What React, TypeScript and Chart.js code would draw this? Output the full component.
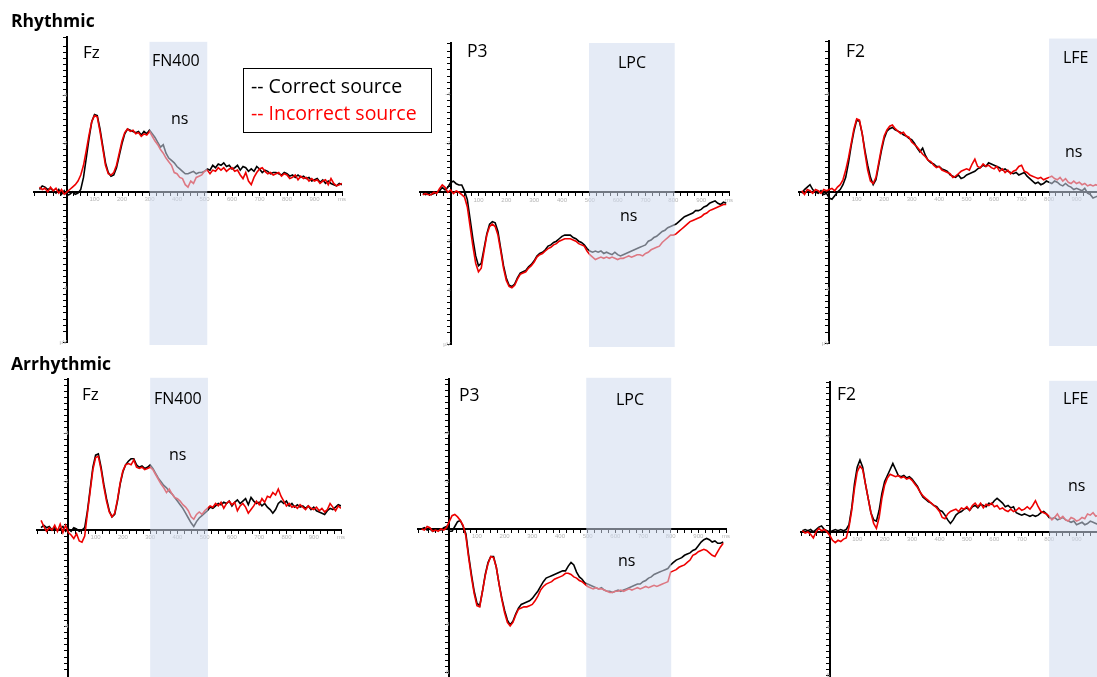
import React, { useEffect, useRef } from "react";
import { Chart, registerables } from "chart.js";

Chart.register(...registerables);

// ---------- data ----------
const TIME_MS = [
  -100, -90, -80, -70, -60, -50, -40, -30, -20, -10,
  0, 10, 20, 30, 40, 50, 60, 70, 80, 90,
  100, 110, 120, 130, 140, 150, 160, 170, 180, 190,
  200, 210, 220, 230, 240, 250, 260, 270, 280, 290,
  300, 310, 320, 330, 340, 350, 360, 370, 380, 390,
  400, 410, 420, 430, 440, 450, 460, 470, 480, 490,
  500, 510, 520, 530, 540, 550, 560, 570, 580, 590,
  600, 610, 620, 630, 640, 650, 660, 670, 680, 690,
  700, 710, 720, 730, 740, 750, 760, 770, 780, 790,
  800, 810, 820, 830, 840, 850, 860, 870, 880, 890,
  900, 910, 920, 930, 940, 950, 960, 970, 980, 990,
  1000,
];

const X_TICK_VALUES = [-100, 100, 200, 300, 400, 500, 600, 700, 800, 900];
const Y_TICK_VALUES = [-4, -2, 2, 4, 6];

const RHYTHMIC_FZ_CORRECT = [
  -0.1, -0.25, -0.2, -0.1, -0.15, -0.05, 0.05, -0.1, 0.1, -0.05,
  0.15, 0.1, 0.0, 0.1, 0.05, -0.1, -0.6, -1.4, -2.2, -2.9,
  -3.2, -3.15, -2.6, -1.9, -1.2, -0.8, -0.65, -0.7, -1.0, -1.5,
  -2.0, -2.4, -2.6, -2.55, -2.5, -2.45, -2.5, -2.35, -2.5, -2.4,
  -2.55, -2.4, -2.25, -2.05, -1.85, -1.95, -1.6, -1.4, -1.3, -1.2,
  -1.05, -0.95, -0.85, -0.75, -0.75, -0.8, -0.85, -0.75, -0.8, -0.8,
  -0.85, -0.95, -0.9, -1.1, -1.0, -1.15, -1.1, -1.2, -1.05, -1.1,
  -0.95, -1.0, -1.1, -0.9, -1.05, -1.0, -0.85, -0.95, -0.85, -1.05,
  -0.95, -0.8, -0.9, -0.85, -0.75, -0.8, -0.8, -0.75, -0.7, -0.8,
  -0.75, -0.65, -0.7, -0.6, -0.7, -0.6, -0.65, -0.55, -0.6, -0.45,
  -0.5, -0.55, -0.4, -0.5, -0.35, -0.45, -0.35, -0.3, -0.25, -0.35,
  -0.3,
];
const RHYTHMIC_FZ_INCORRECT = [
  -0.2, -0.1, -0.15, 0.0, -0.2, -0.05, -0.15, 0.05, -0.1, 0.1,
  0.0, -0.1, -0.2, -0.3, -0.45, -0.7, -1.1, -1.7, -2.35, -2.9,
  -3.15, -3.1, -2.5, -1.8, -1.1, -0.75, -0.7, -0.8, -1.1, -1.6,
  -2.1, -2.45, -2.6, -2.5, -2.55, -2.4, -2.45, -2.3, -2.4, -2.35,
  -2.5, -2.3, -2.1, -1.95, -1.75, -1.6, -1.4, -1.25, -1.1, -0.8,
  -0.75, -0.6, -0.55, -0.3, -0.2, -0.45, -0.35, -0.6, -0.65, -0.7,
  -0.85, -0.9, -0.75, -0.9, -0.85, -1.0, -0.9, -1.0, -0.85, -0.95,
  -1.0, -0.85, -0.9, -0.7, -0.55, -0.8, -0.45, -0.3, -0.6, -0.8,
  -0.95, -1.0, -0.85, -0.75, -0.8, -0.7, -0.75, -0.8, -0.65, -0.75,
  -0.7, -0.55, -0.6, -0.7, -0.5, -0.65, -0.55, -0.6, -0.45, -0.55,
  -0.45, -0.5, -0.35, -0.45, -0.5, -0.3, -0.55, -0.35, -0.25, -0.3,
  -0.35,
];

const RHYTHMIC_P3_CORRECT = [
  0.05, 0.1, 0.05, 0.1, 0.05, 0.0, -0.05, -0.2, -0.1, -0.2,
  -0.4, -0.45, -0.35, -0.3, -0.3, -0.05, 0.3, 1.1, 1.9, 2.6,
  3.0, 2.9, 2.3, 1.7, 1.3, 1.2, 1.25, 1.6, 2.3, 3.0,
  3.5, 3.8, 3.85, 3.75, 3.5, 3.3, 3.25, 3.2, 3.05, 2.95,
  2.8, 2.6, 2.5, 2.45, 2.35, 2.2, 2.15, 2.05, 2.0, 1.9,
  1.8, 1.75, 1.75, 1.75, 1.85, 1.9, 2.0, 2.05, 2.15, 2.3,
  2.4, 2.45, 2.4, 2.45, 2.4, 2.5, 2.45, 2.5, 2.55, 2.45,
  2.55, 2.6, 2.55, 2.5, 2.45, 2.4, 2.35, 2.3, 2.25, 2.2,
  2.15, 2.0, 1.95, 1.85, 1.8, 1.7, 1.6, 1.55, 1.45, 1.4,
  1.35, 1.3, 1.2, 1.1, 1.0, 0.95, 0.9, 0.85, 0.75, 0.75,
  0.7, 0.6, 0.55, 0.45, 0.4, 0.35, 0.45, 0.5, 0.4, 0.45,
];
const RHYTHMIC_P3_INCORRECT = [
  0.1, 0.05, 0.1, 0.1, 0.0, 0.05, -0.15, -0.3, -0.2, 0.0,
  -0.1, 0.05, -0.05, 0.0, 0.1, 0.2, 0.6, 1.4, 2.2, 2.9,
  3.25, 3.1, 2.4, 1.75, 1.4, 1.3, 1.4, 1.75, 2.4, 3.1,
  3.6, 3.85, 3.9, 3.8, 3.55, 3.35, 3.3, 3.25, 3.1, 3.0,
  2.85, 2.65, 2.55, 2.5, 2.4, 2.3, 2.25, 2.15, 2.1, 2.0,
  1.95, 1.9, 1.9, 1.9, 1.95, 2.0, 2.1, 2.15, 2.2, 2.4,
  2.55, 2.65, 2.75, 2.7, 2.65, 2.7, 2.65, 2.7, 2.65, 2.7,
  2.75, 2.7, 2.7, 2.65, 2.6, 2.65, 2.6, 2.55, 2.55, 2.6,
  2.5, 2.45, 2.35, 2.3, 2.25, 2.2, 2.05, 1.95, 1.85, 1.75,
  1.75, 1.7, 1.6, 1.5, 1.4, 1.3, 1.2, 1.15, 1.1, 1.05,
  1.0, 0.9, 0.85, 0.75, 0.7, 0.65, 0.6, 0.55, 0.5, 0.5,
];

const RHYTHMIC_F2_CORRECT = [
  0.05, -0.1, -0.2, -0.3, -0.1, 0.0, 0.05, -0.05, 0.1, 0.05,
  0.25, 0.3, 0.15, 0.0, -0.1, -0.3, -0.6, -1.2, -1.9, -2.5,
  -2.95, -2.9, -2.4, -1.7, -1.1, -0.6, -0.3, -0.5, -1.1, -1.7,
  -2.2, -2.5, -2.6, -2.65, -2.55, -2.5, -2.45, -2.35, -2.3, -2.2,
  -2.15, -2.0, -1.8, -1.65, -1.8, -1.5, -1.3, -1.2, -1.15, -1.05,
  -1.05, -0.95, -0.9, -0.85, -0.7, -0.65, -0.6, -0.7, -0.55, -0.6,
  -0.7, -0.75, -0.8, -0.85, -0.95, -1.0, -1.1, -1.05, -1.2, -1.15,
  -1.1, -1.05, -1.0, -0.9, -0.95, -0.85, -0.8, -0.75, -0.8, -0.7,
  -0.75, -0.8, -0.65, -0.55, -0.45, -0.35, -0.4, -0.3, -0.35, -0.45,
  -0.4, -0.35, -0.45, -0.4, -0.3, -0.25, -0.35, -0.25, -0.2, -0.1,
  -0.15, -0.1, -0.05, -0.15, 0.05, 0.1, 0.25, 0.2, 0.15, 0.1,
  0.1,
];
const RHYTHMIC_F2_INCORRECT = [
  -0.05, 0.1, -0.1, -0.05, 0.05, -0.1, -0.05, 0.05, -0.1, -0.05,
  -0.1, -0.15, -0.05, -0.2, -0.3, -0.5, -0.9, -1.4, -2.0, -2.6,
  -3.0, -2.95, -2.4, -1.6, -0.9, -0.45, -0.35, -0.6, -1.2, -1.8,
  -2.3, -2.55, -2.7, -2.75, -2.6, -2.5, -2.4, -2.45, -2.3, -2.25,
  -2.05, -1.95, -1.85, -1.7, -1.55, -1.45, -1.3, -1.25, -1.1, -1.0,
  -1.05, -0.9, -0.85, -0.8, -0.75, -0.6, -0.65, -0.75, -0.85, -0.9,
  -0.95, -0.9, -1.15, -1.35, -1.05, -1.0, -1.15, -1.05, -1.1, -1.0,
  -0.95, -1.05, -0.85, -0.95, -0.8, -0.9, -0.75, -0.85, -0.9, -1.05,
  -1.1, -0.85, -0.8, -0.7, -0.65, -0.6, -0.55, -0.6, -0.5, -0.55,
  -0.6, -0.65, -0.55, -0.5, -0.6, -0.45, -0.55, -0.4, -0.35, -0.45,
  -0.35, -0.4, -0.3, -0.35, -0.25, -0.3, -0.25, -0.3, -0.25, -0.3,
  -0.3,
];

const ARRHYTHMIC_FZ_CORRECT = [
  -0.1, -0.2, -0.1, -0.15, 0.0, -0.1, 0.0, -0.05, -0.15, 0.05,
  -0.05, 0.05, -0.1, -0.05, 0.05, 0.0, -0.1, -0.8, -1.7, -2.6,
  -3.1, -3.15, -2.6, -1.9, -1.3, -0.8, -0.55, -0.65, -1.2, -1.9,
  -2.4, -2.7, -2.85, -2.95, -2.95, -2.7, -2.6, -2.65, -2.55, -2.6,
  -2.7, -2.55, -2.35, -2.15, -2.0, -1.85, -1.75, -1.6, -1.5, -1.35,
  -1.2, -1.05, -0.9, -0.7, -0.5, -0.3, -0.15, -0.35, -0.5, -0.6,
  -0.7, -0.8, -0.95, -0.9, -1.0, -1.1, -1.05, -1.15, -1.1, -1.2,
  -1.0, -1.15, -1.25, -1.1, -1.2, -1.3, -1.05, -1.35, -1.2, -1.1,
  -1.15, -1.0, -1.1, -0.95, -0.85, -0.7, -0.85, -1.1, -1.2, -1.1,
  -1.2, -1.0, -1.1, -0.95, -1.05, -0.95, -1.0, -0.9, -1.0, -0.85,
  -0.95, -0.8, -0.75, -0.7, -0.65, -0.8, -0.9, -0.85, -0.95, -1.05,
  -1.0,
];
const ARRHYTHMIC_FZ_INCORRECT = [
  -0.4, -0.15, 0.05, -0.1, 0.0, -0.2, 0.05, -0.25, 0.1, -0.2,
  0.1, 0.2, 0.35, 0.15, 0.45, 0.5, 0.25, -0.7, -1.6, -2.5,
  -3.0, -3.05, -2.5, -1.8, -1.2, -0.75, -0.55, -0.7, -1.25, -1.95,
  -2.45, -2.7, -2.75, -2.7, -2.9, -2.6, -2.55, -2.6, -2.5, -2.55,
  -2.6, -2.5, -2.3, -2.1, -1.9, -1.75, -1.55, -1.7, -1.5, -1.35,
  -1.3, -1.2, -1.05, -0.95, -0.8, -0.55, -0.45, -0.65, -0.75, -0.65,
  -0.8, -0.9, -1.0, -0.95, -1.1, -1.0, -1.15, -0.9, -1.1, -1.2,
  -1.05, -1.15, -0.8, -1.0, -1.1, -0.95, -0.7, -0.85, -1.0, -1.2,
  -1.05, -1.3, -1.15, -1.4, -1.35, -1.55, -1.45, -1.7, -1.4, -1.2,
  -1.0, -1.1, -0.95, -1.0, -0.9, -1.05, -0.95, -0.85, -1.0, -0.9,
  -0.85, -0.95, -0.8, -0.9, -0.75, -0.85, -1.1, -0.95, -0.8, -1.0,
  -0.9,
];

const ARRHYTHMIC_P3_CORRECT = [
  0.0, -0.05, 0.05, 0.0, 0.1, 0.05, 0.0, 0.05, -0.05, -0.1,
  0.1, 0.1, -0.1, -0.3, -0.35, -0.1, 0.2, 1.1, 1.9, 2.6,
  3.1, 3.2, 2.6, 1.9, 1.4, 1.15, 1.15, 1.6, 2.3, 2.9,
  3.4, 3.8, 4.0, 3.85, 3.55, 3.3, 3.15, 3.1, 3.05, 3.0,
  2.9, 2.75, 2.6, 2.4, 2.2, 2.05, 2.0, 1.95, 1.9, 1.85,
  1.8, 1.75, 1.75, 1.55, 1.4, 1.5, 1.8, 2.0, 2.1, 2.25,
  2.3, 2.35, 2.4, 2.45, 2.5, 2.45, 2.55, 2.6, 2.6, 2.65,
  2.6, 2.55, 2.6, 2.55, 2.5, 2.45, 2.4, 2.35, 2.3, 2.3,
  2.2, 2.15, 2.05, 2.0, 1.9, 1.85, 1.8, 1.75, 1.7, 1.65,
  1.5, 1.4, 1.3, 1.25, 1.2, 1.1, 1.05, 1.0, 0.9, 0.85,
  0.7, 0.55, 0.45, 0.4, 0.45, 0.55, 0.5, 0.6, 0.6, 0.55,
];
const ARRHYTHMIC_P3_INCORRECT = [
  0.0, 0.05, -0.1, -0.05, 0.1, 0.05, 0.1, 0.0, 0.05, -0.05,
  -0.3, -0.55, -0.6, -0.5, -0.35, -0.15, 0.3, 1.2, 2.0, 2.7,
  3.2, 3.25, 2.6, 1.95, 1.45, 1.15, 1.2, 1.6, 2.3, 2.95,
  3.5, 3.9, 4.05, 3.9, 3.6, 3.35, 3.3, 3.25, 3.25, 3.2,
  3.15, 3.0, 2.8, 2.55, 2.4, 2.3, 2.25, 2.2, 2.1, 2.05,
  2.0, 1.95, 1.85, 1.85, 1.9, 2.0, 2.05, 2.15, 2.2, 2.3,
  2.4, 2.45, 2.5, 2.45, 2.5, 2.5, 2.55, 2.6, 2.65, 2.65,
  2.6, 2.6, 2.55, 2.6, 2.55, 2.5, 2.55, 2.5, 2.45, 2.5,
  2.45, 2.4, 2.45, 2.4, 2.35, 2.4, 2.35, 2.3, 2.25, 2.2,
  1.8, 1.75, 1.7, 1.6, 1.55, 1.5, 1.4, 1.3, 1.1, 1.05,
  0.95, 0.9, 0.85, 0.9, 1.0, 1.1, 1.15, 0.95, 0.75, 0.6,
];

const ARRHYTHMIC_F2_CORRECT = [
  -0.05, -0.1, -0.05, -0.1, 0.0, -0.1, -0.2, -0.25, -0.1, -0.05,
  0.0, -0.05, -0.1, -0.05, -0.1, -0.05, -0.1, -0.3, -1.0, -2.0,
  -2.7, -3.0, -2.7, -2.0, -1.4, -0.8, -0.5, -0.45, -0.9, -1.6,
  -2.1, -2.35, -2.6, -2.85, -2.6, -2.35, -2.3, -2.35, -2.25, -2.3,
  -2.2, -2.05, -1.9, -1.65, -1.45, -1.35, -1.25, -1.2, -1.1, -1.05,
  -0.9, -0.85, -0.7, -0.5, -0.35, -0.5, -0.7, -0.8, -0.85, -0.95,
  -1.0, -0.9, -1.05, -1.1, -1.0, -1.15, -1.1, -1.05, -1.2, -1.15,
  -1.3, -1.4, -1.3, -1.2, -1.05, -1.1, -1.0, -1.05, -0.8, -0.75,
  -0.7, -0.75, -0.7, -0.65, -0.7, -0.65, -0.7, -0.8, -0.85, -0.75,
  -0.6, -0.55, -0.6, -0.5, -0.55, -0.6, -0.5, -0.45, -0.4, -0.45,
  -0.3, -0.35, -0.4, -0.3, -0.35, -0.45, -0.4, -0.35, -0.3, -0.35,
  -0.3,
];
const ARRHYTHMIC_F2_INCORRECT = [
  -0.05, 0.05, 0.0, 0.1, 0.25, 0.0, -0.15, -0.05, -0.1, 0.0,
  0.15, 0.35, 0.45, 0.35, 0.4, 0.3, 0.25, -0.2, -0.9, -1.8,
  -2.5, -2.75, -2.6, -2.0, -1.4, -0.8, -0.35, -0.15, -0.6, -1.4,
  -1.95, -2.25, -2.4, -2.35, -2.3, -2.35, -2.25, -2.3, -2.2, -2.25,
  -2.15, -2.0, -1.85, -1.65, -1.5, -1.4, -1.3, -1.2, -1.1, -1.0,
  -0.85, -0.6, -0.55, -0.75, -0.85, -0.9, -0.95, -0.85, -1.0, -0.95,
  -1.05, -0.9, -1.1, -1.2, -1.05, -1.2, -1.0, -1.15, -1.1, -1.2,
  -1.05, -1.1, -0.95, -1.0, -0.9, -0.85, -0.95, -0.85, -0.9, -1.0,
  -0.9, -0.95, -1.05, -0.95, -1.1, -1.3, -1.05, -0.85, -0.8, -0.75,
  -0.65, -0.5, -0.6, -0.75, -0.55, -0.65, -0.5, -0.45, -0.6, -0.55,
  -0.45, -0.5, -0.6, -0.55, -0.75, -0.7, -0.8, -0.65, -0.7, -0.6,
  -0.55,
];

// ---------- layout ----------
const PAD = 10;
const FONT = "'Open Sans', 'Noto Sans', sans-serif";

const PANELS = [
  { id: "rFz", x0: 67, y0: 192, pxMs: 0.275, pxUv: 24.25, xMin: -120, xMax: 1000, yMin: -6.4, yMax: 6.2, shadeFrom: 300, shadeTo: 510, shadeTop: -6.2, correct: RHYTHMIC_FZ_CORRECT, incorrect: RHYTHMIC_FZ_INCORRECT },
  { id: "rP3", x0: 450.5, y0: 192, pxMs: 0.278, pxUv: 24.5, xMin: -110, xMax: 1000, yMin: -6.1, yMax: 6.2, shadeFrom: 497, shadeTo: 805, shadeTop: -6.1, correct: RHYTHMIC_P3_CORRECT, incorrect: RHYTHMIC_P3_INCORRECT },
  { id: "rF2", x0: 829, y0: 192, pxMs: 0.275, pxUv: 24.3, xMin: -110, xMax: 1000, yMin: -6.2, yMax: 6.2, shadeFrom: 800, shadeTo: 1000, shadeTop: -6.3, correct: RHYTHMIC_F2_CORRECT, incorrect: RHYTHMIC_F2_INCORRECT },
  { id: "aFz", x0: 68.5, y0: 530, pxMs: 0.2725, pxUv: 24.2, xMin: -115, xMax: 1000, yMin: -6.25, yMax: 6.2, shadeFrom: 300, shadeTo: 512, shadeTop: -6.3, correct: ARRHYTHMIC_FZ_CORRECT, incorrect: ARRHYTHMIC_FZ_INCORRECT },
  { id: "aP3", x0: 449.5, y0: 529, pxMs: 0.276, pxUv: 24, xMin: -113, xMax: 1000, yMin: -6.25, yMax: 6.3, shadeFrom: 495, shadeTo: 802, shadeTop: -6.3, correct: ARRHYTHMIC_P3_CORRECT, incorrect: ARRHYTHMIC_P3_INCORRECT },
  { id: "aF2", x0: 830, y0: 531.5, pxMs: 0.274, pxUv: 24, xMin: -105, xMax: 1000, yMin: -6.25, yMax: 6.3, shadeFrom: 800, shadeTo: 1000, shadeTop: -6.3, correct: ARRHYTHMIC_F2_CORRECT, incorrect: ARRHYTHMIC_F2_INCORRECT },
];

const TEXTS = [
  { text: "Rhythmic", left: 11, top: 11.5, size: 17.5, bold: true },
  { text: "Arrhythmic", left: 11, top: 354.5, size: 17.5, bold: true },
  { text: "Fz", left: 83, top: 43, size: 17 },
  { text: "FN400", left: 152, top: 51.5, size: 16 },
  { text: "ns", left: 171, top: 109.6, size: 16 },
  { text: "P3", left: 467, top: 42, size: 17.5 },
  { text: "LPC", left: 618, top: 53.7, size: 16 },
  { text: "ns", left: 620, top: 207, size: 16 },
  { text: "F2", left: 846, top: 42, size: 17.5 },
  { text: "LFE", left: 1063, top: 49.3, size: 16 },
  { text: "ns", left: 1065, top: 143.4, size: 16 },
  { text: "Fz", left: 82, top: 385.3, size: 17 },
  { text: "FN400", left: 154, top: 389.8, size: 16 },
  { text: "ns", left: 169, top: 446.3, size: 16 },
  { text: "P3", left: 459, top: 385.7, size: 17.5 },
  { text: "LPC", left: 616, top: 391, size: 16 },
  { text: "ns", left: 618, top: 552, size: 16 },
  { text: "F2", left: 837, top: 384.9, size: 17.5 },
  { text: "LFE", left: 1063, top: 389.5, size: 16 },
  { text: "ns", left: 1068, top: 476.8, size: 16 },
];

const shadePlugin = {
  id: "erpShade",
  afterDatasetsDraw(chart: any, _args: any, opts: any) {
    const { ctx, chartArea, scales } = chart;
    const x1 = scales.x.getPixelForValue(opts.from);
    const x2 = scales.x.getPixelForValue(opts.to);
    const yTop = scales.y.getPixelForValue(opts.top);
    ctx.save();
    ctx.fillStyle = opts.color;
    ctx.fillRect(x1, yTop, x2 - x1, chartArea.bottom + 3 - yTop);
    ctx.restore();
  },
};

const zeroPadding = (scale: any) => {
  scale.paddingLeft = 0;
  scale.paddingRight = 0;
  scale.paddingTop = 0;
  scale.paddingBottom = 0;
};

function ErpPanel({ cfg }: { cfg: any }) {
  const ref = useRef<HTMLCanvasElement>(null);
  const left = Math.round(cfg.x0 + cfg.xMin * cfg.pxMs) - PAD;
  const right = Math.round(cfg.x0 + cfg.xMax * cfg.pxMs) + PAD;
  const top = Math.round(cfg.y0 + cfg.yMin * cfg.pxUv) - PAD;
  const bottom = Math.round(cfg.y0 + cfg.yMax * cfg.pxUv) + PAD;
  const W = right - left;
  const H = bottom - top;

  useEffect(() => {
    if (!ref.current) return;
    const toPoints = (vals: number[]) => vals.map((v, i) => ({ x: TIME_MS[i], y: v }));
    const tickFont = { size: 6, family: "'Liberation Sans', sans-serif" };
    const chart = new Chart(ref.current, {
      type: "line",
      data: {
        datasets: [
          {
            label: "Incorrect source",
            data: toPoints(cfg.incorrect),
            borderColor: "rgb(238,0,0)",
            borderWidth: 1.6,
            pointRadius: 0,
            tension: 0,
          },
          {
            label: "Correct source",
            data: toPoints(cfg.correct),
            borderColor: "#000000",
            borderWidth: 1.6,
            pointRadius: 0,
            tension: 0,
          },
        ],
      },
      options: {
        responsive: false,
        animation: false,
        events: [],
        layout: { padding: PAD },
        plugins: {
          legend: { display: false },
          tooltip: { enabled: false },
          erpShade: {
            from: cfg.shadeFrom,
            to: cfg.shadeTo,
            top: cfg.shadeTop,
            color: "rgba(207,219,238,0.55)",
          },
        } as any,
        scales: {
          x: {
            type: "linear",
            min: cfg.xMin,
            max: cfg.xMax,
            position: { y: 0 } as any,
            z: 1,
            afterFit: zeroPadding,
            grid: { drawOnChartArea: false, drawTicks: true, tickLength: 3, color: "#000", lineWidth: 1 },
            border: { display: true, color: "#000", width: 2 },
            ticks: {
              stepSize: 25,
              autoSkip: false,
              maxRotation: 0,
              minRotation: 0,
              padding: 1,
              color: "#b4b4b4",
              font: tickFont,
              callback: (value: any) => {
                const v = Math.round(Number(value));
                if (v === 1000) return "ms";
                return X_TICK_VALUES.includes(v) && Math.abs(Number(value) - v) < 1e-6 ? String(v) : "";
              },
            },
          },
          y: {
            type: "linear",
            min: cfg.yMin,
            max: cfg.yMax,
            reverse: true,
            position: { x: 0 } as any,
            z: 1,
            afterFit: zeroPadding,
            grid: { drawOnChartArea: false, drawTicks: true, tickLength: 3, color: "#000", lineWidth: 1 },
            border: { display: true, color: "#000", width: 2 },
            ticks: {
              stepSize: 0.25,
              autoSkip: false,
              padding: 2,
              color: "#b4b4b4",
              font: tickFont,
              callback: (value: any, index: number) => {
                if (index === 0) return "µV";
                const v = Math.round(Number(value) * 100) / 100;
                return Y_TICK_VALUES.includes(v) ? String(v) : "";
              },
            },
          },
        },
      } as any,
      plugins: [shadePlugin],
    });
    return () => chart.destroy();
  }, []);

  return (
    <canvas
      ref={ref}
      width={W}
      height={H}
      style={{ position: "absolute", left, top, width: W, height: H }}
    />
  );
}

export default function App() {
  return (
    <div
      style={{
        position: "fixed",
        left: 0,
        top: 0,
        width: 1097,
        height: 677,
        overflow: "hidden",
        background: "#ffffff",
      }}
    >
      {PANELS.map((p) => (
        <ErpPanel key={p.id} cfg={p} />
      ))}
      {TEXTS.map((t, i) => (
        <div
          key={i}
          style={{
            position: "absolute",
            left: t.left,
            top: t.top,
            fontSize: t.size,
            lineHeight: `${t.size}px`,
            fontFamily: FONT,
            fontWeight: t.bold ? 700 : 400,
            color: "#000",
            whiteSpace: "nowrap",
          }}
        >
          {t.text}
        </div>
      ))}
      <div
        style={{
          position: "absolute",
          left: 243,
          top: 68,
          width: 189,
          height: 65,
          boxSizing: "border-box",
          border: "1.5px solid #000",
          background: "#fff",
        }}
      />
      <div
        style={{
          position: "absolute",
          left: 251,
          top: 76,
          fontSize: 19.5,
          lineHeight: "19.5px",
          fontFamily: FONT,
          color: "#000",
          whiteSpace: "nowrap",
        }}
      >
        -- Correct source
      </div>
      <div
        style={{
          position: "absolute",
          left: 251,
          top: 102.6,
          fontSize: 19.5,
          lineHeight: "19.5px",
          fontFamily: FONT,
          color: "#ff0000",
          whiteSpace: "nowrap",
        }}
      >
        -- Incorrect source
      </div>
    </div>
  );
}
